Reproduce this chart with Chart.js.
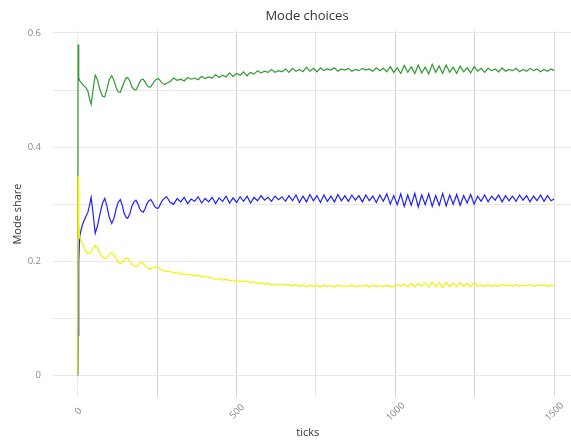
<!DOCTYPE html>
<html>
<head>
<meta charset="utf-8">
<script src="https://cdn.jsdelivr.net/npm/chart.js@4.4.0/dist/chart.umd.min.js"></script>
<style>
 html, body { margin: 0; padding: 0; background: #fff; }
 #wrap { width: 571px; height: 441px; }
</style>
</head>
<body>
<div id="wrap"><canvas id="modeChart" width="571" height="441"></canvas></div>
<script>
// simulation ticks (x values)
let ticks = [
 0, 1, 3, 6, 11, 16, 22, 27, 32, 37, 42, 48, 55, 62, 70, 78, 85, 92, 99, 107,
 114, 121, 127, 134, 140, 146, 152, 157, 164, 170, 177, 183, 189, 195, 200, 206, 212, 218, 224, 230,
 236, 242, 248, 254, 260, 267, 274, 280,
 291, 302, 313, 324, 335, 346, 357, 368, 379, 390,
 401, 412, 423, 434, 445, 456, 467, 478, 489, 500,
 511, 522, 533, 544, 555, 566, 577, 588, 599, 610,
 621, 632, 643, 654, 665, 676, 687, 698, 709, 720,
 731, 742, 753, 764, 775, 786, 797, 808, 819, 830,
 841, 852, 863, 874, 885, 896, 907, 918, 929, 940,
 951, 962, 973, 984, 995, 1006, 1017, 1028, 1039, 1050,
 1061, 1072, 1083, 1094, 1105, 1116, 1127, 1138, 1149, 1160,
 1171, 1182, 1193, 1204, 1215, 1226, 1237, 1248, 1259, 1270,
 1281, 1292, 1303, 1314, 1325, 1336, 1347, 1358, 1369, 1380,
 1391, 1402, 1413, 1424, 1435, 1446, 1457, 1468, 1479, 1490,
 1500
];

let greenShare = [
 0, 0.580, 0.522, 0.516, 0.513, 0.509, 0.506, 0.503, 0.498, 0.485,
 0.475, 0.500, 0.526, 0.518, 0.500, 0.489, 0.488, 0.502, 0.518, 0.525,
 0.517, 0.504, 0.497, 0.496, 0.505, 0.514, 0.521, 0.522, 0.516, 0.506,
 0.501, 0.500, 0.506, 0.514, 0.518, 0.519, 0.514, 0.508, 0.505, 0.506,
 0.511, 0.516, 0.519, 0.520, 0.516, 0.511, 0.510, 0.512,
 0.515, 0.521, 0.517, 0.519, 0.516, 0.522, 0.519, 0.521, 0.518, 0.524,
 0.520, 0.523, 0.521, 0.527, 0.522, 0.526, 0.523, 0.530, 0.524, 0.529,
 0.526, 0.532, 0.525, 0.531, 0.528, 0.534, 0.530, 0.533, 0.531, 0.536,
 0.531, 0.534, 0.532, 0.537, 0.531, 0.538, 0.533, 0.536, 0.532, 0.540,
 0.533, 0.538, 0.532, 0.539, 0.534, 0.537, 0.535, 0.539, 0.533, 0.537,
 0.535, 0.538, 0.533, 0.536, 0.534, 0.538, 0.535, 0.537, 0.533, 0.539,
 0.534, 0.538, 0.532, 0.541, 0.531, 0.539, 0.529, 0.543, 0.531, 0.541,
 0.529, 0.544, 0.530, 0.540, 0.528, 0.545, 0.531, 0.542, 0.529, 0.544,
 0.531, 0.540, 0.529, 0.542, 0.532, 0.539, 0.530, 0.541, 0.533, 0.538,
 0.531, 0.538, 0.534, 0.537, 0.532, 0.539, 0.533, 0.536, 0.534, 0.538,
 0.532, 0.536, 0.533, 0.538, 0.534, 0.537, 0.532, 0.536, 0.533, 0.537,
 0.534
];

let blueShare = [
 0, 0.07, 0.20, 0.243, 0.256, 0.266, 0.274, 0.280, 0.286, 0.298,
 0.312, 0.285, 0.249, 0.262, 0.283, 0.302, 0.310, 0.296, 0.277, 0.266,
 0.275, 0.292, 0.303, 0.308, 0.298, 0.284, 0.277, 0.275, 0.283, 0.296,
 0.304, 0.307, 0.301, 0.292, 0.288, 0.286, 0.292, 0.301, 0.306, 0.308,
 0.303, 0.296, 0.293, 0.293, 0.300, 0.307, 0.311, 0.313,
 0.303, 0.300, 0.310, 0.304, 0.312, 0.301, 0.309, 0.305, 0.313, 0.302,
 0.310, 0.304, 0.312, 0.301, 0.311, 0.305, 0.314, 0.302, 0.311, 0.303,
 0.313, 0.305, 0.314, 0.302, 0.312, 0.306, 0.315, 0.307, 0.312, 0.305,
 0.314, 0.308, 0.313, 0.305, 0.315, 0.306, 0.316, 0.303, 0.314, 0.304,
 0.317, 0.306, 0.315, 0.303, 0.316, 0.305, 0.314, 0.304, 0.317, 0.306,
 0.315, 0.305, 0.316, 0.307, 0.315, 0.304, 0.316, 0.306, 0.314, 0.303,
 0.316, 0.305, 0.318, 0.300, 0.315, 0.299, 0.318, 0.296, 0.316, 0.298,
 0.319, 0.295, 0.316, 0.299, 0.318, 0.296, 0.315, 0.298, 0.319, 0.297,
 0.316, 0.300, 0.317, 0.298, 0.315, 0.302, 0.317, 0.300, 0.314, 0.305,
 0.316, 0.304, 0.314, 0.307, 0.316, 0.304, 0.315, 0.306, 0.314, 0.305,
 0.316, 0.307, 0.315, 0.304, 0.314, 0.306, 0.316, 0.305, 0.315, 0.306,
 0.309
];

let yellowShare = [
 0, 0.349, 0.270, 0.241, 0.235, 0.229, 0.222, 0.216, 0.213, 0.215,
 0.216, 0.223, 0.228, 0.222, 0.214, 0.207, 0.205, 0.206, 0.212, 0.215,
 0.211, 0.204, 0.199, 0.196, 0.198, 0.203, 0.206, 0.205, 0.200, 0.195,
 0.192, 0.191, 0.193, 0.197, 0.198, 0.196, 0.192, 0.189, 0.187, 0.187,
 0.188, 0.190, 0.190, 0.189, 0.186, 0.184, 0.183, 0.182,
 0.182, 0.179, 0.181, 0.177, 0.178, 0.176, 0.177, 0.174, 0.175, 0.173,
 0.174, 0.171, 0.171, 0.168, 0.170, 0.167, 0.168, 0.166, 0.167, 0.164,
 0.166, 0.164, 0.165, 0.162, 0.164, 0.161, 0.162, 0.160, 0.161, 0.159,
 0.160, 0.158, 0.160, 0.158, 0.159, 0.157, 0.159, 0.156, 0.158, 0.155,
 0.158, 0.156, 0.158, 0.155, 0.158, 0.156, 0.157, 0.155, 0.158, 0.156,
 0.157, 0.156, 0.158, 0.155, 0.157, 0.156, 0.158, 0.155, 0.158, 0.156,
 0.157, 0.155, 0.158, 0.156, 0.155, 0.159, 0.156, 0.160, 0.155, 0.161,
 0.155, 0.161, 0.156, 0.162, 0.155, 0.163, 0.155, 0.162, 0.154, 0.163,
 0.155, 0.162, 0.155, 0.163, 0.156, 0.161, 0.155, 0.163, 0.156, 0.158,
 0.156, 0.159, 0.156, 0.158, 0.156, 0.159, 0.157, 0.158, 0.156, 0.159,
 0.156, 0.158, 0.157, 0.159, 0.156, 0.158, 0.157, 0.159, 0.156, 0.158,
 0.157
];

// axis ticks and their labels
let xTickValues = [0, 250, 500, 750, 1000, 1250, 1500];
let xTickLabels = ['0   ', '', '500 ', '', '1000', '', '1500'];
let yTickValues = [0, 0.1, 0.2, 0.3, 0.4, 0.5, 0.6];
let yTickLabels = ['0', '', '0.2', '', '0.4', '', '0.6'];

const FONT = "'Open Sans', 'DejaVu Sans', sans-serif";

function toPoints(values) {
 return ticks.map((t, i) => ({ x: t, y: values[i] }));
}

// keep the title centred over the plot panel
const titleOverPlot = {
 id: 'titleOverPlot',
 afterLayout(chart) {
  const t = chart.titleBlock;
  if (t) {
   t.left = chart.chartArea.left - 10;
   t.right = chart.chartArea.right;
  }
 }
};

let ctx = document.getElementById('modeChart').getContext('2d');
let modeChart = new Chart(ctx, {
 type: 'line',
 data: {
  datasets: [
   { label: 'green', data: toPoints(greenShare), borderColor: '#2f9a2f', order: 3 },
   { label: 'blue', data: toPoints(blueShare), borderColor: '#1f1fff', order: 2 },
   { label: 'yellow', data: toPoints(yellowShare), borderColor: '#f2f200', order: 1 }
  ]
 },
 options: {
  responsive: false,
  animation: false,
  events: [],
  elements: {
   line: { borderWidth: 1.2, tension: 0, fill: false },
   point: { radius: 0 }
  },
  layout: { padding: 0 },
  plugins: {
   legend: { display: false },
   tooltip: { enabled: false },
   title: {
    display: true,
    text: 'Mode choices',
    color: '#333',
    font: { family: FONT, size: 13, weight: 'normal' },
    padding: { top: 8, bottom: 7.4 }
   }
  },
  scales: {
   x: {
    type: 'linear',
    min: -78,
    max: 1553,
    afterBuildTicks: s => { s.ticks = xTickValues.map(v => ({ value: v })); },
    afterFit: s => { s.height = 44; },
    border: { display: false },
    grid: {
     drawTicks: false,
     lineWidth: 1,
     color: c => ({ 0: '#ececec', 750: '#e8e8e8', 1500: '#dcdcdc' })[c.tick.value] || '#d3d3d3'
    },
    ticks: {
     autoSkip: false,
     maxRotation: 45,
     minRotation: 45,
     labelOffset: 8,
     padding: 3,
     color: '#888',
     font: { family: FONT, size: 9.5 },
     callback: (v, i) => xTickLabels[i]
    },
    title: {
     display: true,
     text: 'ticks   ',
     color: '#333',
     font: { family: FONT, size: 11 },
     padding: { top: 0, bottom: 2 }
    }
   },
   y: {
    min: -0.038,
    max: 0.6035,
    afterBuildTicks: s => { s.ticks = yTickValues.map(v => ({ value: v })); },
    afterFit: s => { s.width = 53; },
    border: { display: false },
    grid: { drawTicks: false, color: '#e8e8e8', lineWidth: 1 },
    ticks: {
     padding: 12,
     color: '#888',
     font: { family: FONT, size: 9.5 },
     callback: (v, i) => yTickLabels[i]
    },
    title: {
     display: true,
     text: 'Mode share',
     color: '#333',
     font: { family: FONT, size: 11 },
     padding: { top: 11, bottom: 0 }
    }
   }
  }
 },
 plugins: [titleOverPlot]
});
</script>
</body>
</html>
